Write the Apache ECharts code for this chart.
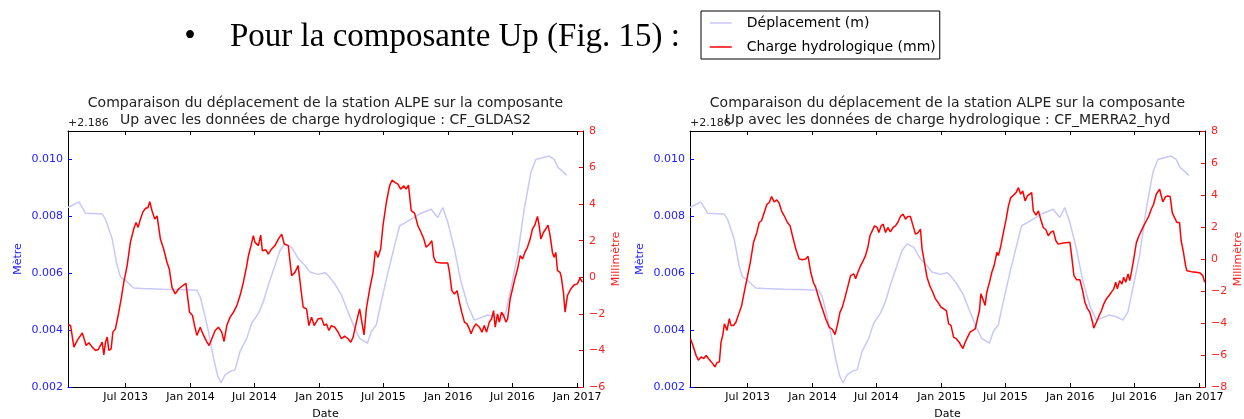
<!DOCTYPE html>
<html>
<head>
<meta charset="utf-8">
<script src="https://cdn.jsdelivr.net/npm/echarts@6/dist/echarts.min.js"></script>
<style>
  html, body { margin: 0; padding: 0; background: #fff; }
  #chart { width: 1244px; height: 419px; }
</style>
</head>
<body>
<div id="chart"></div>
<script>
// dates are decimal years
const tickYears = [2013.496, 2014.0, 2014.496, 2015.0, 2015.496, 2016.0, 2016.497, 2017.0];
const tickLabels = ['Jul 2013', 'Jan 2014', 'Jul 2014', 'Jan 2015', 'Jul 2015', 'Jan 2016', 'Jul 2016', 'Jan 2017'];
const metreTicks = [0.002, 0.004, 0.006, 0.008, 0.010];
const offsetText = '+2.186';

// station ALPE, Up displacement (m, minus the 2.186 offset)
const dispYears = [2013.049, 2013.083, 2013.134, 2013.185, 2013.314, 2013.340, 2013.392, 2013.430, 2013.456, 2013.495,
  2013.559, 2013.624, 2013.778, 2013.908, 2014.049, 2014.075, 2014.101, 2014.139, 2014.178, 2014.211,
  2014.237, 2014.268, 2014.307, 2014.346, 2014.384, 2014.436, 2014.474, 2014.526, 2014.565, 2014.603,
  2014.655, 2014.694, 2014.733, 2014.785, 2014.836, 2014.888, 2014.927, 2014.990, 2015.042, 2015.068,
  2015.119, 2015.171, 2015.222, 2015.274, 2015.312, 2015.372, 2015.403, 2015.441, 2015.480, 2015.532,
  2015.583, 2015.622, 2015.660, 2015.712, 2015.789, 2015.867, 2015.918, 2015.957, 2015.996, 2016.047,
  2016.099, 2016.150, 2016.202, 2016.253, 2016.305, 2016.357, 2016.408, 2016.447, 2016.485, 2016.537,
  2016.589, 2016.640, 2016.679, 2016.730, 2016.782, 2016.821, 2016.852, 2016.885, 2016.919];
const dispValues = [0.00831, 0.00839, 0.00851, 0.00811, 0.00808, 0.00790, 0.00720, 0.00627, 0.00587, 0.00575,
  0.00548, 0.00546, 0.00544, 0.00543, 0.00540, 0.00517, 0.00470, 0.00395, 0.00302, 0.00238,
  0.00214, 0.00243, 0.00255, 0.00261, 0.00325, 0.00371, 0.00424, 0.00459, 0.00500, 0.00558,
  0.00627, 0.00680, 0.00703, 0.00691, 0.00651, 0.00627, 0.00604, 0.00596, 0.00602, 0.00592,
  0.00563, 0.00523, 0.00464, 0.00406, 0.00371, 0.00354, 0.00395, 0.00418, 0.00500, 0.00604,
  0.00697, 0.00767, 0.00776, 0.00790, 0.00811, 0.00825, 0.00796, 0.00831, 0.00779, 0.00686,
  0.00569, 0.00488, 0.00435, 0.00444, 0.00453, 0.00447, 0.00435, 0.00464, 0.00546, 0.00662,
  0.00825, 0.00953, 0.01000, 0.01006, 0.01012, 0.01000, 0.00971, 0.00959, 0.00944];

// hydrological loading CF_GLDAS2 (mm)
const gldasYears = [2013.051, 2013.069, 2013.095, 2013.121, 2013.160, 2013.172, 2013.190, 2013.211, 2013.237, 2013.263,
  2013.283, 2013.301, 2013.314, 2013.327, 2013.340, 2013.353, 2013.366, 2013.384, 2013.397, 2013.417,
  2013.438, 2013.464, 2013.482, 2013.508, 2013.533, 2013.559, 2013.577, 2013.593, 2013.611, 2013.629,
  2013.649, 2013.670, 2013.683, 2013.701, 2013.722, 2013.740, 2013.766, 2013.791, 2013.817, 2013.835,
  2013.856, 2013.881, 2013.907, 2013.933, 2013.964, 2013.979, 2013.992, 2014.015, 2014.031, 2014.049,
  2014.075, 2014.101, 2014.127, 2014.144, 2014.165, 2014.191, 2014.216, 2014.242, 2014.260, 2014.281,
  2014.307, 2014.333, 2014.359, 2014.384, 2014.410, 2014.436, 2014.449, 2014.469, 2014.487, 2014.500,
  2014.526, 2014.544, 2014.557, 2014.583, 2014.603, 2014.629, 2014.655, 2014.681, 2014.707, 2014.727,
  2014.758, 2014.784, 2014.810, 2014.835, 2014.856, 2014.874, 2014.900, 2014.918, 2014.939, 2014.959,
  2014.990, 2015.016, 2015.037, 2015.055, 2015.073, 2015.093, 2015.119, 2015.145, 2015.171, 2015.196,
  2015.222, 2015.243, 2015.261, 2015.287, 2015.312, 2015.325, 2015.346, 2015.364, 2015.390, 2015.416,
  2015.434, 2015.454, 2015.475, 2015.493, 2015.519, 2015.544, 2015.563, 2015.588, 2015.609, 2015.630,
  2015.655, 2015.673, 2015.691, 2015.702, 2015.712, 2015.738, 2015.764, 2015.789, 2015.810, 2015.828,
  2015.854, 2015.872, 2015.887, 2015.905, 2015.944, 2015.996, 2016.009, 2016.027, 2016.047, 2016.068,
  2016.086, 2016.104, 2016.125, 2016.145, 2016.163, 2016.176, 2016.197, 2016.215, 2016.241, 2016.261,
  2016.279, 2016.297, 2016.318, 2016.336, 2016.351, 2016.364, 2016.382, 2016.395, 2016.413, 2016.429,
  2016.447, 2016.460, 2016.480, 2016.498, 2016.516, 2016.537, 2016.558, 2016.576, 2016.594, 2016.614,
  2016.635, 2016.653, 2016.671, 2016.692, 2016.705, 2016.718, 2016.738, 2016.756, 2016.774, 2016.790,
  2016.808, 2016.821, 2016.834, 2016.847, 2016.867, 2016.877, 2016.893, 2016.906, 2016.924, 2016.950,
  2016.975, 2017.001, 2017.022, 2017.040];
const gldasValues = [-2.60, -2.64, -3.82, -3.45, -3.04, -3.00, -3.73, -3.58, -3.82, -4.00,
  -3.95, -3.73, -3.55, -4.24, -3.55, -3.27, -4.00, -3.91, -3.00, -2.82,
  -2.09, -1.09, -0.27, 0.64, 1.91, 2.64, 3.00, 2.73, 3.18, 3.55,
  3.76, 3.82, 4.13, 3.64, 3.18, 3.36, 2.09, 1.55, 0.82, 0.45,
  -0.55, -0.91, -0.64, -0.49, -0.33, -1.18, -1.91, -2.09, -2.64, -3.18,
  -2.73, -3.18, -3.55, -3.73, -3.36, -2.91, -2.73, -3.00, -3.51, -2.64,
  -2.18, -1.91, -1.55, -1.00, -0.27, 0.64, 1.18, 1.73, 2.27, 1.91,
  1.73, 2.31, 1.45, 1.51, 1.27, 1.55, 1.73, 2.09, 2.36, 1.82,
  1.73, 0.09, 0.27, 0.64, -0.64, -1.64, -1.73, -2.64, -2.18, -2.64,
  -2.27, -2.24, -2.64, -2.55, -2.91, -2.64, -2.73, -3.00, -3.36, -3.22,
  -3.36, -3.55, -3.27, -2.45, -1.73, -2.27, -3.15, -1.73, -0.64, 0.27,
  1.45, 1.09, 1.55, 2.82, 4.09, 5.00, 5.31, 5.18, 5.09, 4.82,
  5.00, 4.82, 5.04, 5.00, 3.64, 3.51, 2.82, 2.45, 2.09, 1.64,
  1.82, 2.00, 1.09, 0.82, 0.78, 0.78, 0.27, -0.73, -0.91, -0.73,
  -1.36, -1.91, -2.45, -2.55, -2.82, -3.09, -2.73, -2.55, -2.73, -3.00,
  -2.64, -3.00, -2.45, -2.27, -1.82, -2.73, -2.00, -2.45, -1.91, -2.09,
  -2.45, -2.27, -1.18, -0.64, -0.09, 0.45, 1.18, 1.00, 1.36, 1.64,
  2.09, 2.64, 2.85, 3.33, 2.82, 2.09, 2.45, 2.64, 2.85, 2.27,
  1.36, 1.09, 1.36, 0.36, 0.27, 0.00, -0.82, -1.91, -1.00, -0.64,
  -0.42, -0.36, -0.05, -0.27];

// hydrological loading CF_MERRA2_hyd (mm)
const merraYears = [2013.053, 2013.071, 2013.096, 2013.114, 2013.135, 2013.156, 2013.174, 2013.192, 2013.207, 2013.225,
  2013.243, 2013.259, 2013.277, 2013.290, 2013.303, 2013.316, 2013.336, 2013.354, 2013.367, 2013.388,
  2013.406, 2013.419, 2013.432, 2013.450, 2013.470, 2013.491, 2013.517, 2013.542, 2013.568, 2013.586,
  2013.604, 2013.625, 2013.646, 2013.664, 2013.682, 2013.702, 2013.723, 2013.741, 2013.759, 2013.780,
  2013.805, 2013.826, 2013.844, 2013.870, 2013.896, 2013.921, 2013.947, 2013.965, 2013.986, 2014.006,
  2014.024, 2014.050, 2014.076, 2014.102, 2014.128, 2014.153, 2014.174, 2014.192, 2014.213, 2014.231,
  2014.249, 2014.269, 2014.295, 2014.321, 2014.334, 2014.352, 2014.373, 2014.393, 2014.411, 2014.429,
  2014.445, 2014.463, 2014.481, 2014.501, 2014.514, 2014.532, 2014.548, 2014.566, 2014.584, 2014.604,
  2014.625, 2014.643, 2014.661, 2014.682, 2014.703, 2014.721, 2014.739, 2014.759, 2014.780, 2014.798,
  2014.816, 2014.837, 2014.850, 2014.868, 2014.888, 2014.909, 2014.927, 2014.953, 2014.973, 2014.996,
  2015.017, 2015.038, 2015.056, 2015.074, 2015.094, 2015.115, 2015.133, 2015.151, 2015.167, 2015.185,
  2015.203, 2015.223, 2015.244, 2015.262, 2015.280, 2015.295, 2015.306, 2015.321, 2015.339, 2015.352,
  2015.373, 2015.391, 2015.409, 2015.430, 2015.442, 2015.461, 2015.481, 2015.502, 2015.520, 2015.538,
  2015.558, 2015.579, 2015.597, 2015.615, 2015.631, 2015.649, 2015.667, 2015.682, 2015.700, 2015.713,
  2015.734, 2015.752, 2015.770, 2015.790, 2015.811, 2015.829, 2015.847, 2015.868, 2015.888, 2015.906,
  2015.945, 2015.997, 2016.010, 2016.028, 2016.048, 2016.074, 2016.095, 2016.113, 2016.131, 2016.151,
  2016.172, 2016.182, 2016.203, 2016.224, 2016.242, 2016.260, 2016.280, 2016.301, 2016.319, 2016.337,
  2016.352, 2016.365, 2016.383, 2016.401, 2016.414, 2016.430, 2016.448, 2016.461, 2016.474, 2016.492,
  2016.513, 2016.533, 2016.551, 2016.569, 2016.590, 2016.610, 2016.628, 2016.646, 2016.667, 2016.680,
  2016.693, 2016.706, 2016.718, 2016.739, 2016.757, 2016.775, 2016.791, 2016.809, 2016.827, 2016.847,
  2016.860, 2016.878, 2016.894, 2016.904, 2016.938, 2016.976, 2017.007, 2017.028, 2017.043];
const merraValues = [-4.98, -5.39, -6.02, -6.33, -6.12, -6.22, -6.02, -6.22, -6.33, -6.54,
  -6.74, -6.47, -6.43, -5.19, -4.77, -4.05, -4.46, -3.73, -4.15, -4.15,
  -3.94, -4.05, -3.32, -2.90, -2.07, -1.24, -0.21, 1.04, 1.66, 2.28,
  2.39, 2.90, 3.42, 3.53, 3.90, 3.57, 3.69, 3.49, 3.01, 2.70,
  2.28, 2.07, 1.45, 0.62, 0.00, -0.04, 0.00, 0.17, -0.83, -1.45,
  -1.76, -2.49, -3.11, -3.73, -4.25, -4.40, -4.73, -4.15, -3.32, -3.01,
  -2.49, -1.87, -1.04, -0.93, -1.24, -0.83, -0.41, -0.10, 0.21, 0.73,
  1.45, 1.76, 2.07, 1.97, 1.66, 2.07, 2.18, 1.66, 1.97, 1.70,
  1.97, 2.07, 2.28, 2.66, 2.80, 2.49, 2.66, 2.66, 2.07, 1.56,
  1.62, 1.87, 0.62, -0.21, -1.14, -1.66, -1.97, -2.49, -2.70, -3.01,
  -3.11, -3.22, -4.05, -4.15, -4.88, -4.98, -5.15, -5.39, -5.60, -5.19,
  -4.88, -4.56, -4.46, -4.36, -3.73, -3.22, -2.18, -2.49, -2.90, -2.07,
  -1.45, -0.83, -0.41, 0.41, 0.21, 0.83, 1.66, 2.49, 3.32, 3.84,
  3.98, 4.15, 4.46, 4.05, 4.25, 3.63, 3.94, 3.84, 4.15, 3.01,
  2.74, 3.01, 2.49, 1.97, 1.83, 1.45, 1.66, 1.76, 1.14, 0.93,
  1.00, 1.04, 0.21, -1.04, -1.29, -1.29, -1.97, -2.70, -3.07, -3.32,
  -3.94, -4.32, -3.94, -3.53, -3.22, -2.80, -2.49, -2.28, -2.07, -1.87,
  -1.45, -1.87, -1.35, -1.56, -1.14, -1.45, -0.93, -1.35, -0.83, 0.00,
  1.04, 1.45, 1.76, 2.07, 2.39, 2.70, 3.11, 3.42, 4.05, 4.15,
  4.36, 3.94, 3.57, 3.90, 3.94, 3.90, 2.90, 2.59, 2.28, 2.28,
  1.14, 0.41, -0.41, -0.73, -0.79, -0.83, -0.87, -1.04, -1.45];

const FONT = 'DejaVu Sans';
const X_MIN = 2013.049, X_MAX = 2017.045;
const DISP_NAME = 'Déplacement (m)';
const HYDRO_NAME = 'Charge hydrologique (mm)';
const TITLE1 = 'Comparaison du déplacement de la station ALPE sur la composante';

const pairs = (xs, ys) => xs.map((x, i) => [x, ys[i]]);
const minus = v => (v < 0 ? '\u2212' + Math.abs(v) : String(v));
const dateLabel = v => {
  const i = tickYears.findIndex(t => Math.abs(t - v) < 0.01);
  return i >= 0 ? tickLabels[i] : '';
};

const panels = [
  { left: 68, title2: 'Up avec les données de charge hydrologique : CF_GLDAS2', years: gldasYears, values: gldasValues, mmMin: -6 },
  { left: 690, title2: 'Up avec les données de charge hydrologique : CF_MERRA2_hyd', years: merraYears, values: merraValues, mmMin: -8 },
];
const W = 515, TOP = 131, H = 256;

const grid = [], xAxis = [], yAxis = [], series = [], graphic = [];
panels.forEach((p, gi) => {
  grid.push({ left: p.left, top: TOP, width: W, height: H, outerBoundsMode: 'none', containLabel: false });
  xAxis.push({
    type: 'value', gridIndex: gi, position: 'bottom', min: X_MIN, max: X_MAX,
    name: 'Date', nameLocation: 'middle', nameGap: 22,
    nameTextStyle: { color: '#000', fontSize: 11, fontFamily: FONT },
    axisLine: { onZero: false, lineStyle: { color: '#000' } },
    axisTick: { inside: true, length: 4, customValues: tickYears, lineStyle: { color: '#000' } },
    axisLabel: { customValues: tickYears, margin: 5, color: '#000', fontSize: 11, fontFamily: FONT, formatter: dateLabel },
    splitLine: { show: false },
  });
  xAxis.push({
    type: 'value', gridIndex: gi, position: 'top', min: X_MIN, max: X_MAX,
    axisLine: { onZero: false, lineStyle: { color: '#000' } },
    axisTick: { inside: true, length: 4, customValues: tickYears, lineStyle: { color: '#000' } },
    axisLabel: { show: false },
    splitLine: { show: false },
  });
  yAxis.push({
    type: 'value', gridIndex: gi, position: 'left', min: 0.002, max: 0.011,
    name: 'Mètre', nameLocation: 'middle', nameGap: 44,
    nameTextStyle: { color: '#2020ff', fontSize: 11, fontFamily: FONT },
    axisLine: { show: true, onZero: false, lineStyle: { color: '#000' } },
    axisTick: { show: true, inside: true, length: 4, customValues: metreTicks, lineStyle: { color: '#0000ff' } },
    axisLabel: { customValues: metreTicks, margin: 5, color: '#2020ff', fontSize: 11, fontFamily: FONT, formatter: v => v.toFixed(3) },
    splitLine: { show: false },
  });
  yAxis.push({
    type: 'value', gridIndex: gi, position: 'right', min: p.mmMin, max: 8, interval: 2,
    name: 'Millimètre', nameLocation: 'middle', nameGap: 28,
    nameTextStyle: { color: '#ff2020', fontSize: 11, fontFamily: FONT },
    axisLine: { show: true, onZero: false, lineStyle: { color: '#000' } },
    axisTick: { show: true, inside: true, length: 4, lineStyle: { color: '#ff0000' } },
    axisLabel: { margin: 6, color: '#ff2020', fontSize: 11, fontFamily: FONT, formatter: minus },
    splitLine: { show: false },
  });
  series.push({
    name: DISP_NAME, type: 'line', xAxisIndex: gi * 2, yAxisIndex: gi * 2,
    data: pairs(dispYears, dispValues), symbol: 'none', animation: false,
    lineStyle: { color: '#c8c8fb', width: 1.5 }, itemStyle: { color: '#c8c8fb' },
  });
  series.push({
    name: HYDRO_NAME, type: 'line', xAxisIndex: gi * 2, yAxisIndex: gi * 2 + 1,
    data: pairs(p.years, p.values), symbol: 'none', animation: false,
    lineStyle: { color: '#ff0000', width: 1.5 }, itemStyle: { color: '#ff0000' },
  });
  const cx = p.left + W / 2;
  graphic.push({ type: 'text', x: cx, y: 103, style: { text: TITLE1, fill: '#222', font: '14px "DejaVu Sans"', textAlign: 'center', textVerticalAlign: 'middle' } });
  graphic.push({ type: 'text', x: cx, y: 120, style: { text: p.title2, fill: '#222', font: '14px "DejaVu Sans"', textAlign: 'center', textVerticalAlign: 'middle' } });
  graphic.push({ type: 'text', x: p.left, y: 123, style: { text: offsetText, fill: '#222', font: '11px "DejaVu Sans"', textAlign: 'left', textVerticalAlign: 'middle' } });
});

graphic.push({ type: 'text', x: 190, y: 37, style: { text: '\u2022', fill: '#000', font: '33px "Liberation Serif"', textAlign: 'center', textVerticalAlign: 'middle' } });
graphic.push({ type: 'text', x: 230, y: 37, style: { text: 'Pour la composante Up (Fig. 15) :', fill: '#000', font: '33px "Liberation Serif"', textAlign: 'left', textVerticalAlign: 'middle' } });

const chart = echarts.init(document.getElementById('chart'));
chart.setOption({
  backgroundColor: '#fff',
  animation: false,
  grid, xAxis, yAxis, series, graphic,
  legend: {
    data: [DISP_NAME, HYDRO_NAME],
    left: 701, top: 11, orient: 'vertical',
    borderColor: '#000', borderWidth: 1, borderRadius: 0,
    padding: [5, 4, 5, 8], itemGap: 10, itemWidth: 22, itemHeight: 14,
    itemStyle: { opacity: 0 },
    lineStyle: { width: 1.5 },
    textStyle: { color: '#000', fontSize: 14, fontFamily: FONT, padding: [0, 0, 0, 10] },
  },
});
</script>
</body>
</html>
